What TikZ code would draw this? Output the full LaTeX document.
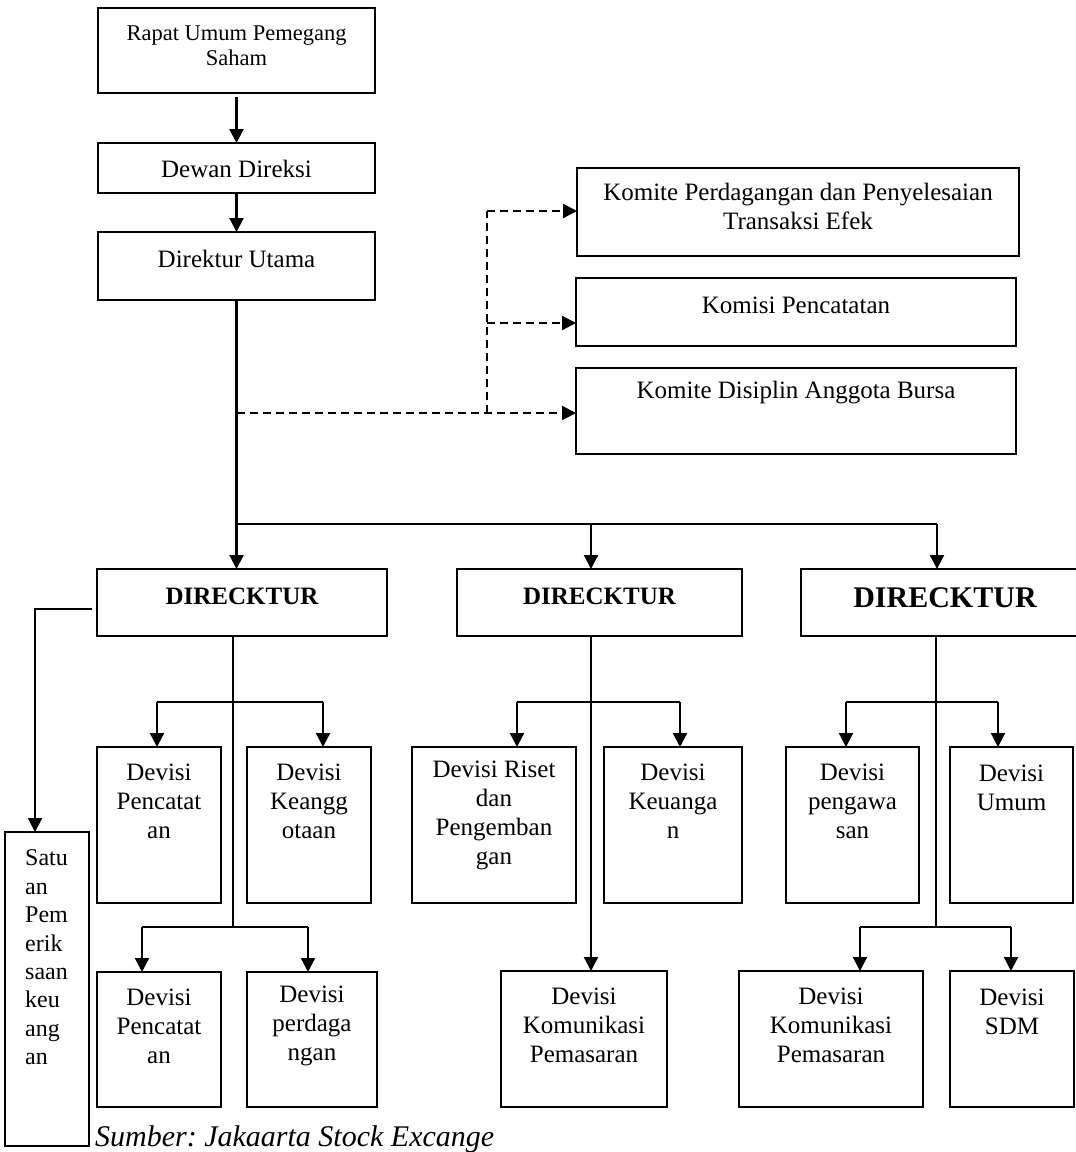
\documentclass[tikz,border=0pt]{standalone}
\usepackage{fontspec}
\setmainfont{Liberation Serif}
\usetikzlibrary{arrows.meta,calc}
\frenchspacing
\tikzset{
  box/.style={draw, rectangle, line width=2.6pt, inner sep=0pt, outer sep=0pt},
  txt/.style={inner sep=0pt, align=center, font=\fontsize{25}{29}\selectfont},
  ln/.style={line width=2.2pt},
  arr/.style={line width=2.2pt, -{Triangle[length=14pt,width=14pt]}},
  darr/.style={line width=2.2pt, dash pattern=on 8pt off 5pt, -{Triangle[length=14pt,width=14pt]}},
  dln/.style={line width=2.2pt, dash pattern=on 8pt off 5pt}
}
\newcommand\mkbox[5]{\node[box, minimum width={(#4)-(#2)}, minimum height={(#5)-(#3)}] (#1) at ({((#2)+(#4))/2},{((#3)+(#5))/2}) {};}
\begin{document}
\begin{tikzpicture}[x=1pt,y=-1pt]
\fill[white] (0,0) rectangle (1076,1152);
\useasboundingbox (0,0) rectangle (1076,1152);

% boxes
\mkbox{rups}{98}{8}{375}{93}
\mkbox{dewan}{98}{143}{375}{193}
\mkbox{dirut}{98}{232}{375}{300}
\mkbox{k1}{577}{168}{1019}{256}
\mkbox{k2}{576}{278}{1016}{346}
\mkbox{k3}{576}{368}{1016}{454}
\mkbox{d1}{97}{569}{387}{636}
\mkbox{d2}{457}{569}{742}{636}
\mkbox{d3}{801}{569}{1092}{636}
\mkbox{satuan}{5}{832}{89}{1146}
\mkbox{p1}{97}{747}{221}{903}
\mkbox{p2}{247}{747}{371}{903}
\mkbox{p3}{97}{972}{221}{1107}
\mkbox{p4}{247}{972}{377}{1107}
\mkbox{r1}{412}{747}{576}{903}
\mkbox{r2}{604}{747}{742}{903}
\mkbox{r3}{501}{971}{667}{1107}
\mkbox{s1}{786}{747}{919}{903}
\mkbox{s2}{950}{747}{1073}{903}
\mkbox{s3}{739}{971}{923}{1107}
\mkbox{s4}{950}{971}{1074}{1107}

% texts
\node[txt, font=\fontsize{22.5}{25}\selectfont] (rups-t) at (236.5,45.5) {Rapat Umum Pemegang\\Saham};
\node[txt] (dewan-t) at (236.5,169) {Dewan Direksi};
\node[txt] (dirut-t) at (236.5,259) {Direktur Utama};
\node[txt] (k1-t) at (798,206.5) {Komite Perdagangan dan Penyelesaian\\Transaksi Efek};
\node[txt] (k2-t) at (796,305) {Komisi Pencatatan};
\node[txt] (k3-t) at (796,393) {Komite Disiplin Anggota Bursa};
\node[txt, font=\bfseries\fontsize{25}{29}\selectfont] (d1-t) at (242,596) {DIRECKTUR};
\node[txt, font=\bfseries\fontsize{25}{29}\selectfont] (d2-t) at (599.5,596) {DIRECKTUR};
\node[txt, font=\bfseries\fontsize{30}{34}\selectfont] (d3-t) at (945,598) {DIRECKTUR};
\node[txt] (p1-t) at (159,801.5) {Devisi\\Pencatat\\an};
\node[txt] (p2-t) at (309,801.5) {Devisi\\Keangg\\otaan};
\node[txt] (p3-t) at (159,1026) {Devisi\\Pencatat\\an};
\node[txt] (p4-t) at (312,1026) {Devisi\\perdaga\\ngan};
\node[txt] (r1-t) at (494,815.5) {Devisi Riset\\dan\\Pengemban\\gan};
\node[txt] (r2-t) at (673,801.5) {Devisi\\Keuanga\\n};
\node[txt] (r3-t) at (584,1025.5) {Devisi\\Komunikasi\\Pemasaran};
\node[txt] (s1-t) at (852.5,801.5) {Devisi\\pengawa\\san};
\node[txt] (s2-t) at (1011.5,787.5) {Devisi\\Umum};
\node[txt] (s3-t) at (831,1025.5) {Devisi\\Komunikasi\\Pemasaran};
\node[txt] (s4-t) at (1012,1011.5) {Devisi\\SDM};
\node[txt, align=left, anchor=west, font=\fontsize{24}{28.4}\selectfont] (satuan-t) at (25,957.5) {Satu\\an\\Pem\\erik\\saan\\keu\\ang\\an};
\node[anchor=base west, inner sep=0pt, font=\itshape\fontsize{30}{34}\selectfont] (src) at (95,1146) {Sumber: Jakaarta Stock Excange};

% coordinates
\coordinate (hj) at (236.5,524);
\coordinate (x2) at (591,524);
\coordinate (x3) at (937,524);
\coordinate (c2) at (487,323);
\coordinate (c3) at (487,413);
\coordinate (c1) at (487,211);
\coordinate (sc) at (35,609);
\coordinate (v1) at (233,0);
\coordinate (v2) at (591,0);
\coordinate (v3) at (936,0);
\coordinate (a1L) at (157,702);
\coordinate (a1R) at (323,702);
\coordinate (b1L) at (142,927);
\coordinate (b1R) at (308,927);
\coordinate (a2L) at (517,702);
\coordinate (a2R) at (680,702);
\coordinate (a3L) at (846,702);
\coordinate (a3R) at (998,702);
\coordinate (b3L) at (860,927);
\coordinate (b3R) at (1011,927);

% top chain
\draw[arr] ([yshift=-4pt]rups.south) -- (dewan.north);
\draw[arr] (dewan.south) -- (dirut.north);
\draw[arr] (dirut.south) -- (dirut.south |- d1.north);

% dashed to committees
\draw[darr] (dirut.south |- c3) -- (c3 -| k3.west);
\draw[dln] (c3) -- (c1);
\draw[darr] (c1) -- (c1 -| k1.west);
\draw[darr] (c2) -- (c2 -| k2.west);

% horizontal distribution
\draw[ln] (hj) -- (x3);
\draw[arr] (x2) -- (x2 |- d2.north);
\draw[arr] (x3) -- (x3 |- d3.north);

% satuan
\draw[arr] ([xshift=-5pt]d1.west |- sc) -- (sc) -- (sc |- satuan.north);

% director 1
\draw[ln] (v1 |- d1.south) -- (v1 |- b1L);
\draw[ln] (a1L) -- (a1R);
\draw[arr] (a1L) -- (a1L |- p1.north);
\draw[arr] (a1R) -- (a1R |- p2.north);
\draw[ln] (b1L) -- (b1R);
\draw[arr] (b1L) -- (b1L |- p3.north);
\draw[arr] (b1R) -- (b1R |- p4.north);

% director 2
\draw[arr] (v2 |- d2.south) -- (v2 |- r3.north);
\draw[ln] (a2L) -- (a2R);
\draw[arr] (a2L) -- (a2L |- r1.north);
\draw[arr] (a2R) -- (a2R |- r2.north);

% director 3
\draw[ln] (v3 |- d3.south) -- (v3 |- b3L);
\draw[ln] (a3L) -- (a3R);
\draw[arr] (a3L) -- (a3L |- s1.north);
\draw[arr] (a3R) -- (a3R |- s2.north);
\draw[ln] (b3L) -- (b3R);
\draw[arr] (b3L) -- (b3L |- s3.north);
\draw[arr] (b3R) -- (b3R |- s4.north);
\end{tikzpicture}
\end{document}
